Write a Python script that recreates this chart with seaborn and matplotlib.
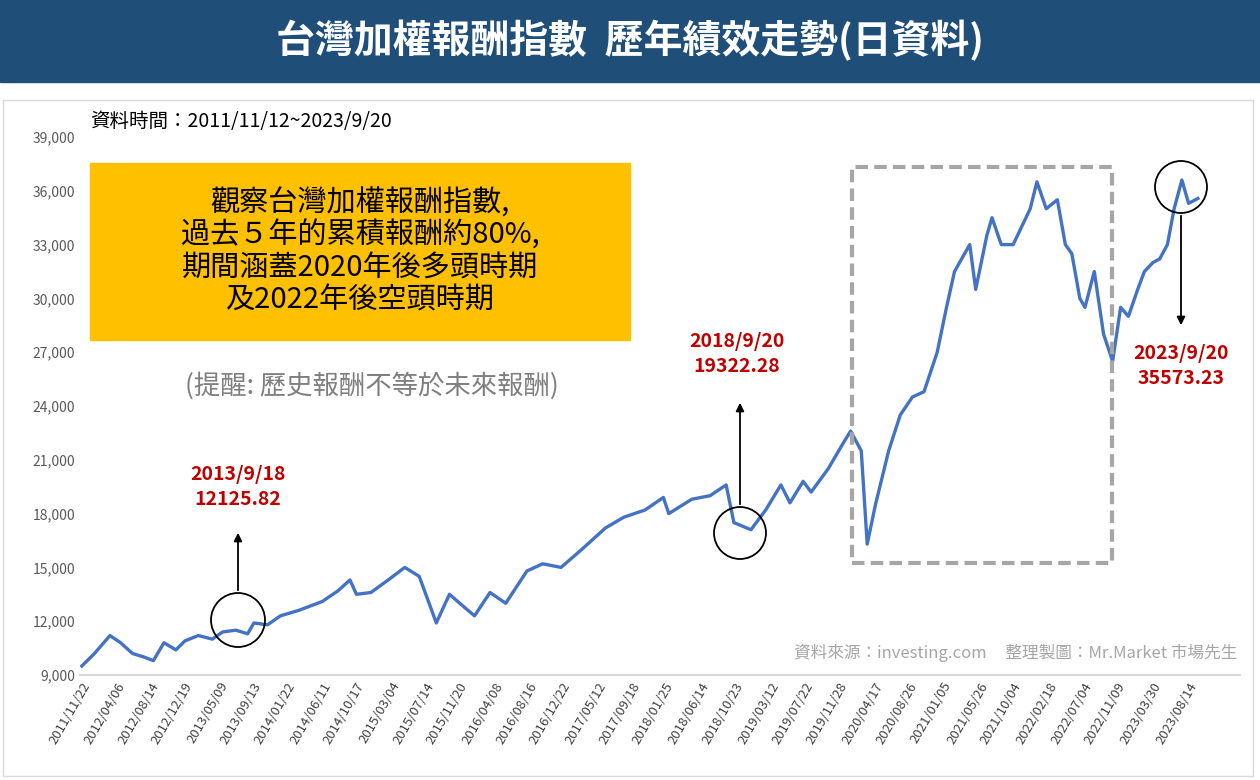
import numpy as np
import pandas as pd
import matplotlib.pyplot as plt
from matplotlib import font_manager
from matplotlib.patches import Rectangle, Ellipse, FancyArrowPatch
import seaborn as sns

cjk = sorted({f.name for f in font_manager.fontManager.ttflist if 'CJK' in f.name})
cjk_pref = [n for n in ['Noto Sans CJK TC', 'Noto Sans CJK JP', 'Noto Sans CJK SC'] if n in cjk] or cjk
plt.rcParams['font.family'] = 'sans-serif'
plt.rcParams['font.sans-serif'] = cjk_pref + ['DejaVu Sans']

# approximate index values
dates = ['2011-11-22', '2012-01-10', '2012-03-10', '2012-04-20', '2012-06-05', '2012-07-20', '2012-08-25',
         '2012-10-05', '2012-11-20', '2012-12-25', '2013-02-15', '2013-04-10', '2013-05-20', '2013-07-10',
         '2013-08-25', '2013-09-18', '2013-11-10', '2013-12-30', '2014-03-10', '2014-06-10', '2014-08-10',
         '2014-09-25', '2014-10-20', '2014-12-15', '2015-02-20', '2015-04-25', '2015-06-20', '2015-08-10',
         '2015-08-25', '2015-10-15', '2015-12-10', '2016-01-20', '2016-03-20', '2016-05-20', '2016-08-10',
         '2016-10-10', '2016-12-20', '2017-03-10', '2017-06-10', '2017-08-20', '2017-11-10', '2018-01-20',
         '2018-02-10', '2018-05-10', '2018-07-20', '2018-09-20', '2018-10-20', '2018-12-25', '2019-02-20',
         '2019-04-20', '2019-05-25', '2019-07-15', '2019-08-15', '2019-10-20', '2019-12-20', '2020-01-15',
         '2020-02-25', '2020-03-19', '2020-04-20', '2020-06-10', '2020-07-25', '2020-09-10', '2020-10-25',
         '2020-12-15', '2021-01-20', '2021-02-20', '2021-04-20', '2021-05-13', '2021-06-25', '2021-07-15',
         '2021-08-20', '2021-10-05', '2021-12-10', '2022-01-05', '2022-02-10', '2022-03-25', '2022-04-25',
         '2022-05-20', '2022-06-20', '2022-07-10', '2022-08-15', '2022-09-20', '2022-10-25', '2022-11-25',
         '2022-12-25', '2023-01-30', '2023-02-25', '2023-03-30', '2023-04-25', '2023-05-25', '2023-06-20',
         '2023-07-20', '2023-08-15', '2023-09-20']
values = [9500, 10200, 11200, 10800, 10200, 10000, 9800,
          10800, 10400, 10900, 11200, 11000, 11400, 11500,
          11300, 11900, 11800, 12300, 12600, 13100, 13700,
          14300, 13500, 13600, 14300, 15000, 14500, 12500,
          11900, 13500, 12800, 12300, 13600, 13000, 14800,
          15200, 15000, 16000, 17200, 17800, 18200, 18900,
          18000, 18800, 19000, 19600, 17500, 17100, 18200,
          19600, 18600, 19800, 19200, 20500, 22000, 22600,
          21500, 16300, 18500, 21500, 23500, 24500, 24800,
          27000, 29500, 31500, 33000, 30500, 33500, 34500,
          33000, 33000, 35000, 36500, 35000, 35500, 33000,
          32500, 30000, 29500, 31500, 28000, 26500, 29500,
          29000, 30500, 31500, 32000, 32200, 33000, 35000,
          36600, 35300, 35573]
tick_labels = ['2011/11/22', '2012/04/06', '2012/08/14', '2012/12/19', '2013/05/09', '2013/09/13',
               '2014/01/22', '2014/06/11', '2014/10/17', '2015/03/04', '2015/07/14', '2015/11/20',
               '2016/04/08', '2016/08/16', '2016/12/22', '2017/05/12', '2017/09/18', '2018/01/25',
               '2018/06/14', '2018/10/23', '2019/03/12', '2019/07/22', '2019/11/28', '2020/04/17',
               '2020/08/26', '2021/01/05', '2021/05/26', '2021/10/04', '2022/02/18', '2022/07/04',
               '2022/11/09', '2023/03/30', '2023/08/14']

df = pd.DataFrame({'date': pd.to_datetime(dates), 'value': values})

W, H = 1260, 780
fig = plt.figure(figsize=(12.6, 7.8), dpi=100)

def fx(x): return x / W
def fy(y): return 1 - y / H

# title banner
fig.patches.append(Rectangle((0, fy(82)), 1, 82 / H, transform=fig.transFigure, color='#1f4e79', zorder=0))
fig.text(0.5, fy(41), '台灣加權報酬指數  歷年績效走勢(日資料)', color='white', fontsize=28,
         fontweight='bold', ha='center', va='center')
# outer chart frame
fig.patches.append(Rectangle((fx(3), fy(776)), fx(1250), 676 / H, transform=fig.transFigure,
                             fill=False, edgecolor='#d9d9d9', lw=1))

ax = fig.add_axes([fx(80), fy(675), fx(1160), (675 - 137) / H])
sns.lineplot(data=df, x='date', y='value', ax=ax, color='#4472c4', lw=2.4)
ax.set_ylim(9000, 39000)
ax.set_yticks(np.arange(9000, 39001, 3000))
ax.yaxis.set_major_formatter(plt.FuncFormatter(lambda v, p: f'{int(v):,}'))
ticks = pd.to_datetime(tick_labels, format='%Y/%m/%d')
ax.set_xticks(ticks)
ax.set_xticklabels(tick_labels, rotation=60, ha='right', rotation_mode='anchor', fontsize=9.5, color='#404040')
ax.set_xlim(pd.Timestamp('2011-11-15'), pd.Timestamp('2024-03-01'))
ax.tick_params(axis='y', labelsize=10, colors='#595959', length=0)
ax.tick_params(axis='x', length=0)
ax.set_xlabel('')
ax.set_ylabel('')
for s in ['top', 'right', 'left']:
    ax.spines[s].set_visible(False)
ax.spines['bottom'].set_color('#d9d9d9')
ax.spines['bottom'].set_linewidth(1.5)

fig.text(fx(90), fy(121), '資料時間：2011/11/12~2023/9/20', fontsize=14, va='center')

# yellow note box
fig.patches.append(Rectangle((fx(90), fy(340)), fx(540), 177 / H, transform=fig.transFigure,
                             color='#ffc000', zorder=2))
fig.text(fx(360), fy(252), '觀察台灣加權報酬指數,\n過去５年的累積報酬約80%,\n期間涵蓋2020年後多頭時期\n及2022年後空頭時期',
         fontsize=21, ha='center', va='center', linespacing=1.1, zorder=3)
fig.text(fx(372), fy(386), '(提醒: 歷史報酬不等於未來報酬)', fontsize=19, color='#7f7f7f', ha='center', va='center')

# dashed box
fig.patches.append(Rectangle((fx(852), fy(563)), fx(260), (563 - 167) / H, transform=fig.transFigure,
                             fill=False, edgecolor='#a6a6a6', lw=3, ls=(0, (3, 1.5)), zorder=5))

# circles
for cx, cy, r in [(238, 620, 27), (740, 533, 26), (1181, 187, 26)]:
    fig.patches.append(Ellipse((fx(cx), fy(cy)), 2 * r / W, 2 * r / H, transform=fig.transFigure,
                               fill=False, edgecolor='black', lw=1.3, zorder=6))

# arrows
for x0, y0, y1 in [(238, 593, 530), (740, 507, 400), (1181, 213, 328)]:
    fig.patches.append(FancyArrowPatch((fx(x0), fy(y0)), (fx(x0), fy(y1)), transform=fig.transFigure,
                                       arrowstyle='-|>', mutation_scale=12, color='black', lw=1.3, zorder=6))

red = '#c00000'
for x, y, t in [(238, 487, '2013/9/18\n12125.82'), (737, 354, '2018/9/20\n19322.28'),
                (1181, 366, '2023/9/20\n35573.23')]:
    fig.text(fx(x), fy(y), t, color=red, fontsize=14, fontweight='bold', ha='center', va='center', linespacing=1.4)

fig.text(fx(1237), fy(653), '資料來源：investing.com     整理製圖：Mr.Market 市場先生', fontsize=12,
         color='#a6a6a6', ha='right', va='center')

fig.savefig('out.png', dpi=100)
